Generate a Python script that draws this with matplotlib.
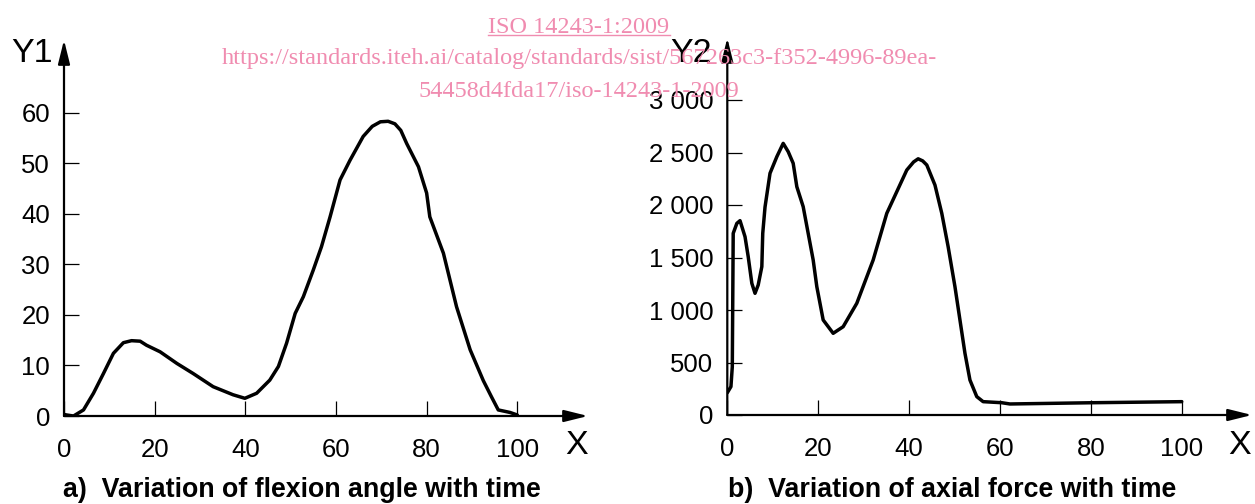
import matplotlib
matplotlib.use("Agg")
import matplotlib.pyplot as plt
from matplotlib.lines import Line2D

plt.rcParams["font.family"] = "Liberation Sans"

# a) flexion angle vs time
time_a = [0, 0.6, 2.1, 4.3, 6.5, 8.7, 10.9, 13.1, 14.9, 16.8, 18.2, 21.2, 24.9,
          28.5, 32.9, 37.3, 39.9, 42.5, 45.4, 47.3, 49.1, 51.0, 52.8, 55.0, 56.8,
          58.7, 60.9, 63.1, 66.0, 68.0, 69.8, 71.5, 73.0, 74.3, 75.6, 78.2, 80.0,
          80.7, 83.7, 86.6, 89.6, 92.5, 94.3, 95.8, 98.4, 100]
angle_a = [0.3, 0.2, 0, 1.2, 4.5, 8.4, 12.4, 14.5, 14.9, 14.8, 14.0, 12.7, 10.4,
           8.4, 5.8, 4.2, 3.5, 4.5, 7.1, 9.8, 14.4, 20.3, 23.6, 28.9, 33.5,
           39.4, 46.7, 50.6, 55.3, 57.3, 58.2, 58.3, 57.8, 56.5, 53.9, 49.3, 44.1,
           39.4, 32.2, 21.6, 13.1, 7.0, 3.8, 1.2, 0.7, 0.2]

# b) axial force vs time
time_b = [0, 0.8, 1.1, 1.2, 1.3, 2.1, 2.8, 3.9, 4.6, 5.4, 6.1, 6.8, 7.6, 7.8,
          8.3, 9.4, 10.9, 12.3, 13.4, 14.5, 15.3, 16.7, 18.9, 19.7, 21.1, 23.3,
          25.5, 28.5, 32.1, 35.1, 39.5, 41.0, 42.0, 43.0, 43.9, 45.7, 47.2, 48.6,
          50.1, 51.2, 52.3, 53.4, 54.9, 56.3, 60.4, 62.2, 80.5, 100]
force_b = [212, 270, 460, 1095, 1730, 1825, 1851, 1698, 1508, 1254, 1159, 1238,
           1413, 1730, 1980, 2302, 2460, 2587, 2508, 2397, 2174, 1984, 1476, 1222,
           905, 778, 841, 1064, 1476, 1921, 2333, 2410, 2440, 2420, 2381, 2190,
           1921, 1603, 1222, 905, 588, 333, 175, 127, 117, 105, 117, 127]

x_ticks = [0, 20, 40, 60, 80, 100]
y_ticks_a = [0, 10, 20, 30, 40, 50, 60]
y_ticks_b = [0, 500, 1000, 1500, 2000, 2500, 3000]
y_labels_b = ["0", "500", "1 000", "1 500", "2 000", "2 500", "3 000"]

W, H = 1255, 504
PINK = "#f08cb0"


def px(x, y):
    return x / W, 1 - y / H


def arrow_axes(ax):
    for s in ax.spines.values():
        s.set_visible(False)
    style = "-|>,head_length=1.45,head_width=0.36"
    for tip in [(1, 0), (0, 1)]:
        ax.annotate("", xy=tip, xytext=(0, 0), xycoords="axes fraction",
                    arrowprops=dict(arrowstyle=style, lw=1.6, color="black",
                                    mutation_scale=10, shrinkA=0, shrinkB=0),
                    annotation_clip=False)
    ax.tick_params(direction="in", length=10.8, width=0.9, labelsize=18.5,
                   colors="black")
    ax.tick_params(axis="x", pad=16)
    ax.tick_params(axis="y", pad=10)


fig = plt.figure(figsize=(W / 100, H / 100), dpi=100)

# left panel: x 0..100 -> px 64..517.3, y 0..60 -> px 416..112.7
ax1 = fig.add_axes([64 / W, (H - 416) / H, (588 - 64) / W, (416 - 40) / H])
ax1.plot(time_a, angle_a, color="black", lw=2.5, solid_joinstyle="round",
         solid_capstyle="round")
ax1.set_xlim(0, 100 * (588 - 64) / (517.3 - 64))
ax1.set_ylim(0, 60 * (416 - 40) / (416 - 112.7))
ax1.set_xticks(x_ticks)
ax1.set_yticks(y_ticks_a)
arrow_axes(ax1)

# right panel: x 0..100 -> px 727.3..1181.7, y 0..3000 -> px 415..100
ax2 = fig.add_axes([727.3 / W, (H - 415) / H, (1252 - 727.3) / W, (415 - 38) / H])
ax2.plot(time_b, force_b, color="black", lw=2.5, solid_joinstyle="round",
         solid_capstyle="round")
ax2.set_xlim(0, 100 * (1252 - 727.3) / (1181.7 - 727.3))
ax2.set_ylim(0, 3000 * (415 - 38) / (415 - 100))
ax2.set_xticks(x_ticks)
ax2.set_yticks(y_ticks_b)
ax2.set_yticklabels(y_labels_b)
arrow_axes(ax2)

# axis names
fig.text(*px(32, 54), "Y1", fontsize=24.5, ha="center", va="center")
fig.text(*px(691, 53), "Y2", fontsize=24.5, ha="center", va="center")
fig.text(*px(577, 446), "X", fontsize=24.5, ha="center", va="center")
fig.text(*px(1240, 446), "X", fontsize=24.5, ha="center", va="center")

# captions
fig.text(*px(63, 497), "a)  Variation of flexion angle with time",
         fontsize=19.3, fontweight="bold", ha="left", va="baseline")
fig.text(*px(728, 497), "b)  Variation of axial force with time",
         fontsize=19.3, fontweight="bold", ha="left", va="baseline")

# watermark
wm_lines = ["ISO 14243-1:2009",
            "https://standards.iteh.ai/catalog/standards/sist/567263c3-f352-4996-89ea-",
            "54458d4fda17/iso-14243-1-2009"]
wm_base = [33, 64, 97]
wm_texts = []
for txt, yb in zip(wm_lines, wm_base):
    wm_texts.append(fig.text(*px(579, yb), txt, fontsize=17.5,
                             family="Liberation Serif", color=PINK,
                             ha="center", va="baseline", zorder=10))

# underline the first watermark line over its own width
fig.canvas.draw()
bb = wm_texts[0].get_window_extent()
fig.add_artist(Line2D([bb.x0 / W, bb.x1 / W], [1 - 35 / H, 1 - 35 / H],
                      color=PINK, lw=1, zorder=10))

fig.savefig("out.png", dpi=100)
